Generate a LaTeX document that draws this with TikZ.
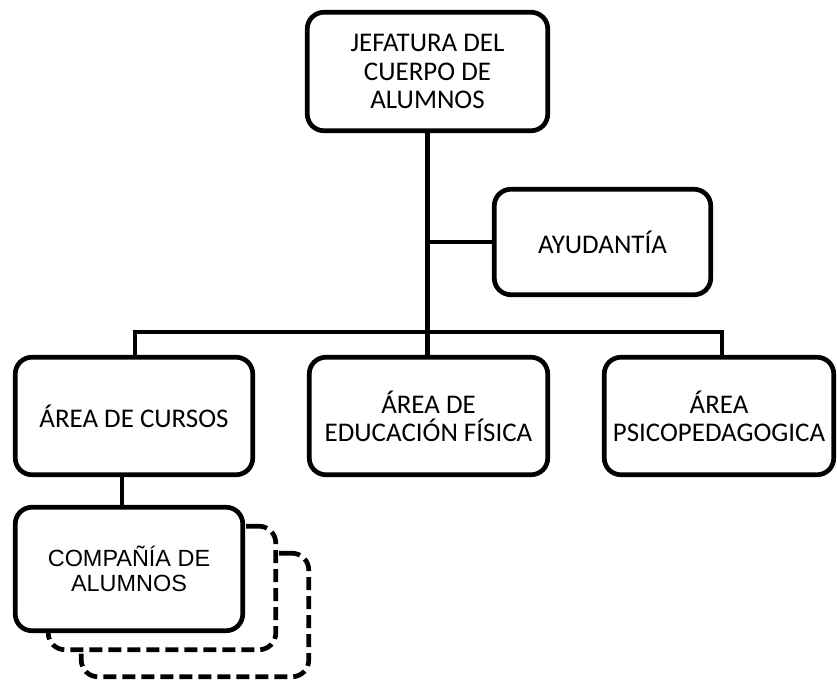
\documentclass[tikz,border=0pt]{standalone}
\usepackage{fontspec}
\setmainfont{Carlito}
\newfontfamily\arialfont{Liberation Sans}
\begin{document}
\begin{tikzpicture}[
    caja/.style={draw,fill=white,rectangle,rounded corners=0.5cm,line width=4pt,align=center,
                 font=\fontsize{23}{24}\selectfont},
    copia/.style={caja,dashed,dash pattern=on 0.39cm off 0.18cm},
    linea/.style={line width=4pt}]
        \useasboundingbox (0,0) rectangle (25.11,20.43);
        %% Jefatura
        \node[caja,minimum width=7.215cm,minimum height=3.555cm] (J) at (12.825,18.285) {JEFATURA DEL\\CUERPO DE\\ALUMNOS};
        \node[caja,minimum width=6.495cm,minimum height=3.165cm] (Y) at (18.075,13.17) {AYUDANT\'IA};
        %% Areas
        \node[caja,minimum width=7.125cm,minimum height=3.525cm] (C) at (4.02,7.95) {\'AREA DE CURSOS};
        \node[caja,minimum width=7.155cm,minimum height=3.525cm] (E) at (12.855,7.95) {\'AREA DE\\EDUCACI\'ON F\'ISICA};
        \node[caja,minimum width=6.885cm,minimum height=3.525cm] (P) at (21.57,7.95) {\'AREA\\PSICOPEDAGOGICA};
        %% Companias
        \node[copia,minimum width=6.825cm,minimum height=3.705cm] (K2) at (5.85,1.98) {};
        \node[copia,minimum width=6.825cm,minimum height=3.705cm] (K1) at (4.86,2.79) {};
        \node[caja,minimum width=6.825cm,minimum height=3.705cm,font=\arialfont\fontsize{20}{21}\selectfont] (K) at (3.87,3.36) {COMPA\~NÍA DE\\ALUMNOS};
        %% Lines
        \coordinate (L) at (4.05,10.47);
        \coordinate (R) at (21.66,10.47);
        \draw[linea] (J.south) -- (J.south |- E.north);
        \draw[linea] (Y.west) -- (Y.west -| J.south);
        \draw[linea] (C.north -| L) -- (L) -- (R) -- (P.north -| R);
        \draw[linea] ([xshift=-2.1mm]K.north) -- ([xshift=-2.1mm]K.north |- C.south);
    \end{tikzpicture}
\end{document}
